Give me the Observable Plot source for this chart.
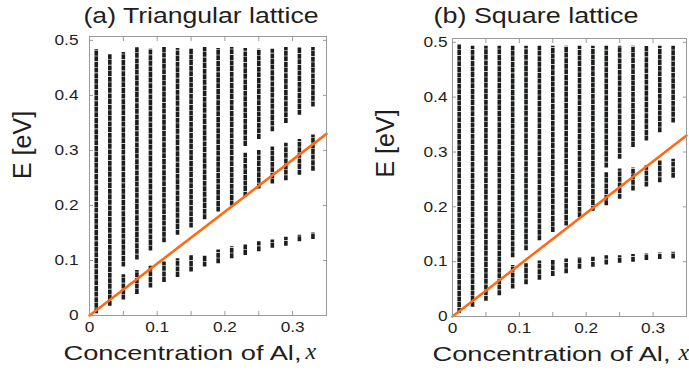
<!DOCTYPE html>
<html><head><meta charset="utf-8">
<script src="https://cdn.jsdelivr.net/npm/d3@7"></script>
<script src="https://cdn.jsdelivr.net/npm/@observablehq/plot@0.6"></script>
<style>
body{margin:0;background:#fff;}
#wrap{display:flex;width:689px;height:383px;overflow:hidden;}
</style></head><body><div id="wrap"></div>
<script>
// ---- data ----
const conc = [0.01,0.03,0.05,0.07,0.09,0.11,0.13,0.15,0.17,0.19,0.21,0.23,0.25,0.27,0.29,0.31,0.33];
const _ = null;
// (a) triangular lattice: energy bands [lo, hi] per concentration
const triUpperLo = [0.003,0.017,0.088,0.101,0.117,0.132,0.146,0.159,0.174,0.188,0.199,0.307,0.320,0.334,0.349,0.364,0.379];
const triUpperHi = [0.483,0.474,0.478,0.487,0.484,0.487,0.485,0.485,0.487,0.485,0.487,0.485,0.484,0.484,0.487,0.487,0.487];
const triMidLo   = [_,_,_,_,_,_,_,_,_,_,_,0.215,0.230,0.239,0.245,0.255,0.262];
const triMidHi   = [_,_,_,_,_,_,_,_,_,_,_,0.295,0.300,0.306,0.313,0.320,0.328];
const triLowLo   = [_,_,0.028,0.038,0.050,0.060,0.069,0.079,0.088,0.094,0.103,0.109,0.116,0.122,0.126,0.134,0.138];
const triLowHi   = [_,_,0.074,0.082,0.090,0.097,0.103,0.109,0.109,0.119,0.125,0.129,0.134,0.137,0.142,0.146,0.150];
// (b) square lattice
const sqUpperLo = [0.006,0.017,0.028,0.038,0.107,0.120,0.138,0.153,0.165,0.180,0.192,0.271,0.287,0.308,0.320,0.335,0.353];
const sqUpperHi = [0.496,0.493,0.493,0.493,0.493,0.493,0.493,0.493,0.493,0.493,0.493,0.493,0.493,0.493,0.493,0.493,0.493];
const sqMidLo   = [_,_,_,_,_,_,_,_,_,_,_,0.202,0.214,0.229,0.236,0.244,0.252];
const sqMidHi   = [_,_,_,_,_,_,_,_,_,_,_,0.262,0.269,0.271,0.275,0.284,0.287];
const sqLowLo   = [_,_,_,_,0.050,0.058,0.066,0.073,0.078,0.086,0.090,0.094,0.097,0.099,0.102,0.104,0.105];
const sqLowHi   = [_,_,_,_,0.093,0.096,0.101,0.102,0.105,0.107,0.108,0.111,0.111,0.113,0.114,0.116,0.117];
// orange reference line
const lineX = [0, 0.35];
const lineE = [0, 0.33];
// ticks
const xTickMarks = [0.05,0.1,0.15,0.2,0.25,0.3];
const xTickLabels = [0,0.1,0.2,0.3];
const yTicks = [0,0.1,0.2,0.3,0.4,0.5];
const titles = ["(a) Triangular lattice","(b) Square lattice"];
const yLabel = "E [eV]";
const xLabel = "Concentration of Al,";
const xVar = "x";

// ---- build ----
function bands(...pairs){
  const rows = [];
  for (const [lo, hi] of pairs) conc.forEach((x,i)=>{ if (lo[i]!=null) rows.push({x, lo: lo[i], hi: hi[i]}); });
  return rows;
}
const lineRows = lineX.map((x,i)=>({x, y: lineE[i]}));
const fmt = d => d === 0 ? "0" : d3.format(".1f")(d);
const GRAY = "#9a9a9a", INK = "#1e1e1e";

function panel(o){
  return Plot.plot({
    width: o.width, height: 383,
    marginLeft: o.ml, marginRight: o.mr, marginTop: o.mt, marginBottom: o.mb,
    x: {domain: [0, 0.35], label: null},
    y: {domain: [0, 0.507], label: null},
    style: {fontFamily: '"Liberation Sans", Arial, sans-serif', fontSize: "15px", color: INK, background: "white", overflow: "visible"},
    marks: [
      Plot.ruleX(o.rows, {x: "x", y1: "lo", y2: "hi", stroke: "#1b1e1c", strokeWidth: 3.6, strokeDasharray: "5,0.6"}),
      Plot.line(lineRows, {x: "x", y: "y", stroke: "#ff6a14", strokeWidth: 2.6}),
      Plot.frame({stroke: GRAY}),
      Plot.axisX({ticks: xTickMarks, tickSize: 4, dy: -4, fill: "none", stroke: GRAY, label: null}),
      Plot.axisX({anchor: "top", ticks: xTickMarks, tickSize: 4, dy: 4, fill: "none", stroke: GRAY, label: null}),
      Plot.axisY({ticks: yTicks.slice(1), tickSize: 4, dx: 4, fill: "none", stroke: GRAY, label: null}),
      Plot.axisY({anchor: "right", ticks: yTicks.slice(1), tickSize: 4, dx: -4, fill: "none", stroke: GRAY, label: null}),
      Plot.axisX({ticks: xTickLabels, tickSize: 0, tickPadding: 6, tickFormat: fmt, fill: INK, label: null}),
      Plot.axisY({ticks: yTicks, tickSize: 0, tickPadding: o.ypad, tickFormat: fmt, fill: INK, label: null}),
      Plot.text([o.title], {text: d => d, frameAnchor: "top-left", textAnchor: "start", lineAnchor: "middle", dx: o.titleDx, dy: o.titleDy, fontSize: 22, fill: INK}),
      Plot.text([yLabel], {text: d => d, frameAnchor: "left", rotate: -90, lineAnchor: "middle", dx: -67, dy: o.ylabDy, fontSize: 25, fill: INK}),
      Plot.text([xLabel], {text: d => d, frameAnchor: "bottom-left", textAnchor: "start", lineAnchor: "middle", dx: o.xlabDx, dy: 38, fontSize: 21, fill: INK}),
      Plot.text([xVar], {text: d => d, frameAnchor: "bottom-left", textAnchor: "start", lineAnchor: "middle", dx: o.xvarDx, dy: 36, fontSize: 24, fontStyle: "italic", fontFamily: '"Liberation Serif", "Times New Roman", serif', fill: INK})
    ]
  });
}

const wrap = document.getElementById("wrap");
const pa = panel({title: titles[0], rows: bands([triUpperLo, triUpperHi],[triMidLo, triMidHi],[triLowLo, triLowHi]),
  width: 345, ml: 89, mr: 19, mt: 36, mb: 68, ypad: 11, titleDx: -6, titleDy: -21, ylabDy: 3, xlabDx: -26, xvarDx: 216});
const pb = panel({title: titles[1], rows: bands([sqUpperLo, sqUpperHi],[sqMidLo, sqMidHi],[sqLowLo, sqLowHi]),
  width: 344, ml: 107, mr: 3, mt: 38, mb: 67, ypad: 5, titleDx: -19, titleDy: -22.5, ylabDy: 0, xlabDx: -20, xvarDx: 226});
wrap.append(pa, pb);

// horizontal stretch of horizontal text to match the reference's wide lettering
const fixedLen = {"(a) Triangular lattice": 235, "(b) Square lattice": 205, "Concentration of Al,": 238};
for (const t of document.querySelectorAll("svg text")) {
  if ((t.getAttribute("transform") || "").includes("rotate")) continue;
  const s = t.textContent;
  if (s === xVar) continue;
  const L = fixedLen[s] ?? t.getComputedTextLength() * 1.15;
  t.setAttribute("textLength", L);
  t.setAttribute("lengthAdjust", "spacingAndGlyphs");
}
</script></body></html>
